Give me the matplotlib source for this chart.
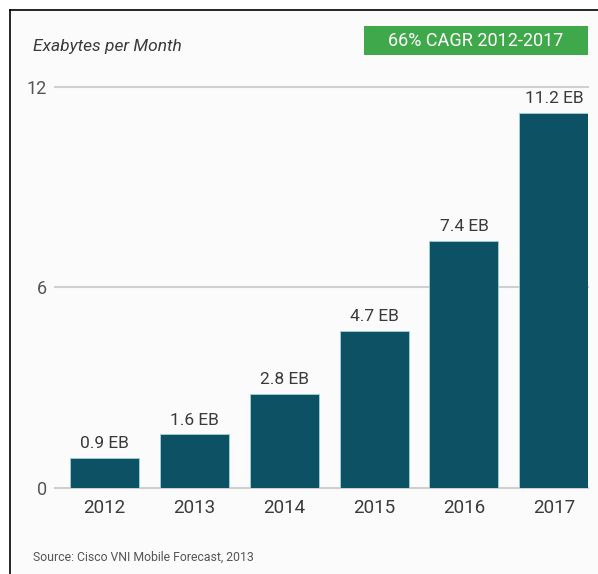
import matplotlib
matplotlib.use('Agg')
import matplotlib.pyplot as plt
from matplotlib.lines import Line2D
from matplotlib.patches import Rectangle

# 数据
years = ['2012', '2013', '2014', '2015', '2016', '2017']
traffic_eb = [0.9, 1.6, 2.8, 4.7, 7.4, 11.2]
y_ticks = [0, 6, 12]

bar_color = '#0c5264'
grid_color = '#cfcfcf'
text_color = '#3a3a3a'

plt.rcParams['font.family'] = ['Roboto', 'DejaVu Sans']

fig = plt.figure(figsize=(5.98, 5.74), dpi=100)
fig.patch.set_facecolor('white')

# 背景和边框
fig.add_artist(Rectangle((11 / 598, 0), 1, 1 - 11 / 574, transform=fig.transFigure,
                         facecolor='#fbfbfb', edgecolor='none', zorder=0))
fig.add_artist(Line2D([10 / 598, 10 / 598], [0, 1 - 10 / 574], transform=fig.transFigure,
                      color='black', lw=1.2))
fig.add_artist(Line2D([10 / 598, 1], [1 - 10 / 574, 1 - 10 / 574], transform=fig.transFigure,
                      color='black', lw=1.2))

ax = fig.add_axes([55 / 598, (574 - 488) / 574, (588 - 55) / 598, (488 - 80) / 574])
ax.set_facecolor('none')

x = range(len(years))
bars = ax.bar(x, traffic_eb, width=0.767, color=bar_color, edgecolor='#9fd3de',
              linewidth=0.6, zorder=3)

for b, v in zip(bars, traffic_eb):
    ax.annotate(f'{v} EB', (b.get_x() + b.get_width() / 2, v), xytext=(0, 5),
                textcoords='offset points', ha='center', va='bottom',
                fontsize=12.5, color=text_color)

ax.set_xlim(-0.55, 5.38)
ax.set_ylim(0, 12.2)
ax.set_yticks(y_ticks)
ax.set_yticklabels([str(t) for t in y_ticks], fontsize=13, color='#555555')
ax.set_xticks(list(x))
ax.set_xticklabels(years, fontsize=13.5, color=text_color)
ax.tick_params(axis='both', length=0)
ax.tick_params(axis='x', pad=8)
ax.tick_params(axis='y', pad=6)

for t in y_ticks:
    ax.axhline(t, color=grid_color, lw=1.5, zorder=1, clip_on=False)

for s in ax.spines.values():
    s.set_visible(False)

# 标题和注释
fig.text(33 / 598, 1 - 47 / 574, 'Exabytes per Month', fontsize=12.5, style='italic',
         color=text_color, va='center', ha='left')

fig.add_artist(Rectangle((364 / 598, 1 - 55 / 574), (588 - 364) / 598, 29 / 574,
                         transform=fig.transFigure, facecolor='#3ea84a', edgecolor='none'))
fig.text(476 / 598, 1 - 40.5 / 574, '66% CAGR 2012-2017', fontsize=13, color='white',
         ha='center', va='center')

fig.text(33 / 598, 1 - 557 / 574, 'Source: Cisco VNI Mobile Forecast, 2013', fontsize=8.8,
         color='#555555', ha='left', va='center')

fig.savefig('out.png', dpi=100)
